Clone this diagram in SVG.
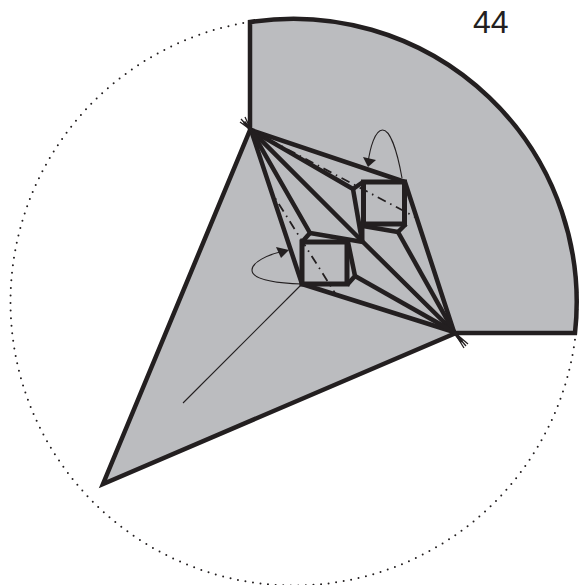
<svg xmlns="http://www.w3.org/2000/svg" width="579" height="585" viewBox="0 0 579 585">
<style>
.o{fill:none;stroke:#231f20;stroke-linejoin:miter}
.b{stroke-width:5}
.m{stroke-width:4.500;stroke-linejoin:round}
.n{stroke-width:1.100}
.d{stroke-width:1.800;stroke-dasharray:9 5 1.500 5}
.r{stroke-width:1.300}
</style>
<circle cx="294" cy="302" r="283.500" fill="none" stroke="#231f20" stroke-width="2" stroke-linecap="round" stroke-dasharray="0 7.600"/>
<path d="M250 130V22A283.500 283.500 0 0 1 575 333H456L103 484Z" fill="#bbbcbf" stroke="#231f20" stroke-width="4.500" stroke-linejoin="miter"/>
<g class="o m">
<path d="M251 130L405 182L454 332L302 284Z"/>
<path d="M251 130L353 189L362 241"/>
<path d="M251 130L363 242L454 332"/>
<path d="M251 130L310 233L363 242"/>
<path d="M398 232L454 332"/>
<path d="M355 276L454 332"/>
<path d="M353 189L363 182"/>
<path d="M302 242L310 233"/>
<path d="M347 285L355 276L348 242"/>
<path d="M363 226L398 232L406 224"/>
</g>
<g class="o b">
<rect x="363.500" y="182" width="41" height="42"/>
<rect x="302" y="242" width="45" height="42"/>
<path d="M362 222V241"/>
</g>
<g class="o">
<path class="d" d="M251 130L417 218"/>
<path class="d" d="M270 190L335 293" stroke-dashoffset="4"/>
<path class="n" d="M302 284L183 403"/>
<path class="n" d="M402 178C397 150 390 130 382.500 130C375 130 370 148 368 163"/>
<path class="n" d="M302 284C270 283 252 279 252 270C252 262 268 255 280 252"/>
<path class="r" d="M251 130L241 119M251 130L245 117M251 130L240 122"/>
<path class="r" d="M454 332L466 346M454 332L468 344M454 332L464 348"/>
<path d="M251 130L244 122M454 332L462 342" stroke-width="3"/>
</g>
<polygon points="363,157 376,160 368,167" fill="#231f20"/>
<polygon points="276,247 289,250 281,258" fill="#231f20"/>
<text x="473" y="33" font-family="Liberation Sans, Arial, sans-serif" font-size="32" fill="#231f20">44</text>
</svg>
